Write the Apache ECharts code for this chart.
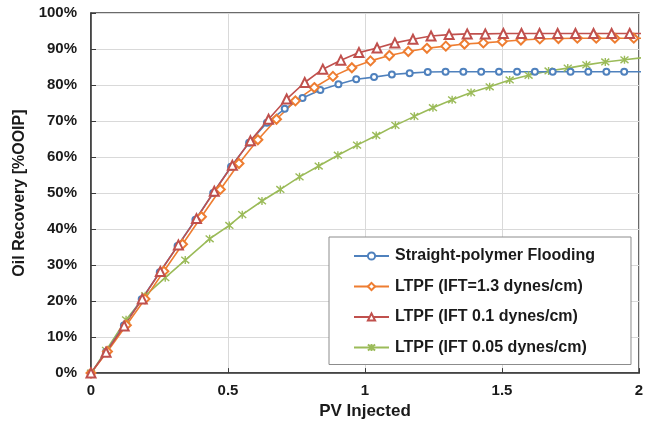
<!DOCTYPE html>
<html>
<head>
<meta charset="utf-8">
<script src="https://cdn.jsdelivr.net/npm/echarts@6/dist/echarts.min.js"></script>
<style>
  html, body { margin: 0; padding: 0; background: #fff; }
  #chart { width: 657px; height: 425px; }
</style>
</head>
<body>
<div id="chart"></div>
<script>
// Pore volumes injected (x) and oil recovery in %OOIP (y) for each flooding case
const seriesNames = [
  'Straight-polymer Flooding',
  'LTPF (IFT=1.3 dynes/cm)',
  'LTPF (IFT 0.1 dynes/cm)',
  'LTPF (IFT 0.05 dynes/cm)'
];

const pvPolymer = [0, 0.055, 0.120, 0.185, 0.251, 0.316, 0.381, 0.446, 0.511, 0.577, 0.642, 0.707, 0.772, 0.837, 0.903, 0.968,
  1.033, 1.098, 1.163, 1.229, 1.294, 1.359, 1.424, 1.489, 1.555, 1.620, 1.685, 1.750, 1.815, 1.881, 1.946, 2.011];
const recPolymer = [0, 5.9, 13.2, 20.5, 28.0, 35.3, 42.6, 50.0, 57.3, 64.0, 69.5, 73.4, 76.4, 78.6, 80.2, 81.6,
  82.2, 82.9, 83.3, 83.6, 83.7, 83.7, 83.7, 83.7, 83.7, 83.7, 83.7, 83.7, 83.7, 83.7, 83.7, 83.7];

const pvIft13 = [0, 0.060, 0.129, 0.197, 0.266, 0.334, 0.403, 0.472, 0.540, 0.609, 0.677, 0.746, 0.815, 0.883, 0.952, 1.020,
  1.089, 1.158, 1.226, 1.295, 1.363, 1.432, 1.501, 1.569, 1.638, 1.706, 1.775, 1.844, 1.912, 1.981, 2.049];
const recIft13 = [0, 6.0, 13.3, 20.6, 28.3, 35.8, 43.4, 51.0, 58.2, 64.8, 70.5, 75.6, 79.3, 82.4, 84.8, 86.7,
  88.2, 89.3, 90.2, 90.8, 91.4, 91.7, 92.1, 92.5, 92.8, 92.9, 93.0, 93.0, 93.0, 93.0, 93.0];

const pvIft01 = [0, 0.055, 0.121, 0.187, 0.253, 0.319, 0.385, 0.450, 0.516, 0.582, 0.648, 0.714, 0.780, 0.846, 0.912, 0.978,
  1.044, 1.109, 1.175, 1.241, 1.307, 1.373, 1.439, 1.505, 1.571, 1.637, 1.703, 1.768, 1.834, 1.900, 1.966, 2.032];
const recIft01 = [0, 5.8, 13.1, 20.6, 28.2, 35.6, 42.9, 50.5, 57.7, 64.5, 70.5, 76.1, 80.7, 84.4, 86.9, 89.0,
  90.3, 91.7, 92.7, 93.6, 94.0, 94.2, 94.2, 94.3, 94.3, 94.3, 94.3, 94.3, 94.3, 94.3, 94.3, 94.3];

const pvIft005 = [0, 0.055, 0.128, 0.198, 0.271, 0.344, 0.433, 0.505, 0.552, 0.624, 0.691, 0.761, 0.831, 0.901, 0.971,
  1.041, 1.111, 1.180, 1.248, 1.318, 1.387, 1.455, 1.528, 1.597, 1.670, 1.740, 1.808, 1.877, 1.947, 2.016];
const recIft005 = [0, 6.3, 14.8, 21.5, 26.5, 31.4, 37.3, 41.0, 44.0, 47.8, 51.0, 54.5, 57.5, 60.5, 63.3,
  66.0, 68.8, 71.3, 73.7, 75.9, 77.9, 79.5, 81.4, 82.7, 83.9, 84.7, 85.6, 86.4, 87.0, 87.6];

const xTicks = [0, 0.5, 1, 1.5, 2];
const yTickStep = 10;

const FONT = '"Liberation Sans", Arial, sans-serif';
const colors = ['#4f81bd', '#ee7d31', '#c0504d', '#9bbb59'];
// asterisk-style marker drawn as stroked strokes
const asterisk = 'path://M0,0L10,10M10,0L0,10M5,-1L5,11';

function pairs(xs, ys) {
  return xs.map((x, i) => [x, ys[i]]);
}

function makeSeries(name, xs, ys, color, symbol, size) {
  return {
    name: name,
    type: 'line',
    data: pairs(xs, ys),
    clip: true,
    symbol: symbol,
    symbolSize: size,
    showAllSymbol: true,
    lineStyle: { color: color, width: 1.6 },
    itemStyle: { color: color, borderColor: color, borderWidth: 1.4 },
    emphasis: { disabled: true },
    animation: false
  };
}

const chart = echarts.init(document.getElementById('chart'), null, { renderer: 'canvas' });

chart.setOption({
  backgroundColor: '#ffffff',
  animation: false,
  textStyle: { fontFamily: FONT },
  grid: {
    left: 91, right: 18, top: 13, bottom: 49,
    show: true, borderColor: '#3a3a3a', borderWidth: 1.5, backgroundColor: 'transparent'
  },
  legend: {
    orient: 'vertical',
    left: 329,
    top: 237,
    padding: [11, 36, 9, 24],
    itemGap: 14.5,
    itemWidth: 35,
    itemHeight: 9,
    backgroundColor: '#ffffff',
    borderColor: '#8c8c8c',
    borderWidth: 1,
    textStyle: { fontFamily: FONT, fontSize: 16, fontWeight: 'bold', color: '#1a1a1a', lineHeight: 16, padding: [0, 0, 0, 1] },
    data: seriesNames
  },
  xAxis: {
    type: 'value',
    min: xTicks[0],
    max: xTicks[xTicks.length - 1],
    interval: 0.5,
    name: 'PV Injected',
    nameLocation: 'middle',
    nameGap: 26,
    nameTextStyle: { fontFamily: FONT, fontSize: 17, fontWeight: 'bold', color: '#1a1a1a' },
    axisLine: { show: true, lineStyle: { color: '#3a3a3a', width: 1.5 } },
    axisTick: { show: true, inside: true, length: 5, lineStyle: { color: '#3a3a3a' } },
    axisLabel: { fontFamily: FONT, fontSize: 15, fontWeight: 'bold', color: '#1a1a1a', margin: 10 },
    splitLine: { show: true, lineStyle: { color: '#d9d9d9', width: 1 } }
  },
  yAxis: {
    type: 'value',
    min: 0,
    max: 100,
    interval: yTickStep,
    name: 'Oil Recovery [%OOIP]',
    nameLocation: 'middle',
    nameGap: 59,
    nameTextStyle: { fontFamily: FONT, fontSize: 16, fontWeight: 'bold', color: '#1a1a1a' },
    axisLine: { show: true, lineStyle: { color: '#3a3a3a', width: 1.5 } },
    axisTick: { show: true, inside: true, length: 5, lineStyle: { color: '#3a3a3a' } },
    axisLabel: { fontFamily: FONT, fontSize: 15, fontWeight: 'bold', color: '#1a1a1a', margin: 14, formatter: '{value}%' },
    splitLine: { show: true, lineStyle: { color: '#d9d9d9', width: 1 } }
  },
  series: [
    makeSeries(seriesNames[3], pvIft005, recIft005, colors[3], asterisk, 8),
    makeSeries(seriesNames[0], pvPolymer, recPolymer, colors[0], 'emptyCircle', 6),
    makeSeries(seriesNames[1], pvIft13, recIft13, colors[1], 'emptyDiamond', 9),
    makeSeries(seriesNames[2], pvIft01, recIft01, colors[2], 'emptyTriangle', 9)
  ]
});
</script>
</body>
</html>
